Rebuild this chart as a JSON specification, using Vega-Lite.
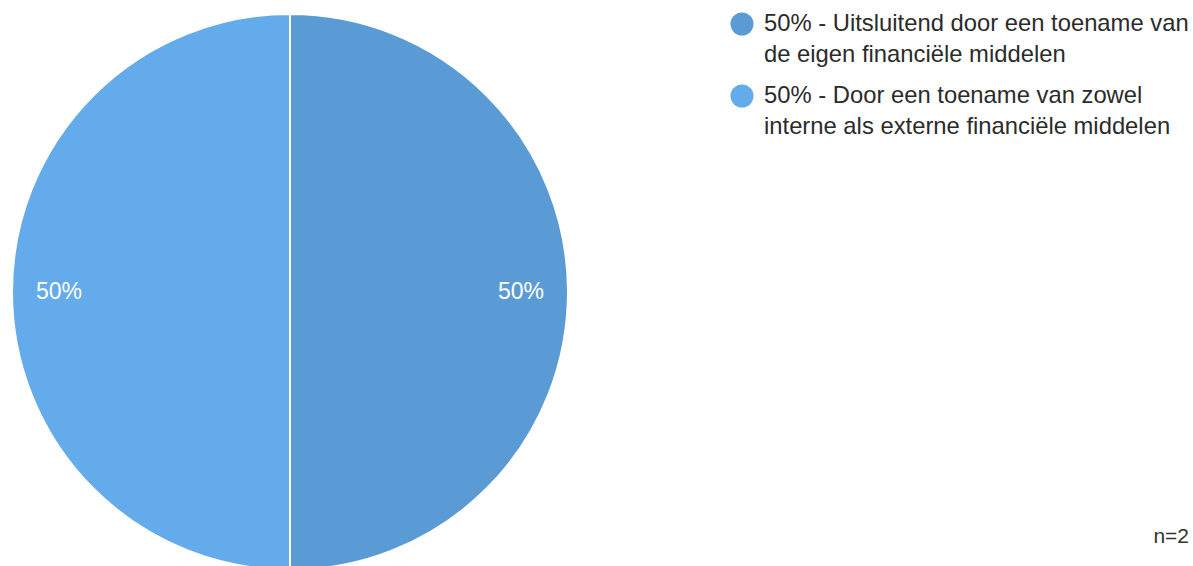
{
  "$schema": "https://vega.github.io/schema/vega-lite/v6.json",
  "width": 580,
  "height": 566,
  "padding": {"left": 0, "top": 9, "right": 2, "bottom": 0},
  "autosize": {"type": "pad"},
  "background": "white",
  "config": {"view": {"stroke": null}, "font": "Liberation Sans", "style": {"guide-label": {"lineHeight": 31}}},
  "title": {"text": "n=2", "orient": "bottom", "anchor": "end", "frame": "bounds", "fontSize": 21, "fontWeight": "normal", "color": "#333333", "offset": -49},
  "data": {"values": [
    {"key": "a", "pct": 50, "label": "50%", "order": 1},
    {"key": "b", "pct": 50, "label": "50%", "order": 2}
  ]},
  "encoding": {
    "theta": {"field": "pct", "type": "quantitative", "stack": true},
    "order": {"field": "order", "type": "quantitative"}
  },
  "layer": [
    {
      "mark": {"type": "arc", "outerRadius": 278, "stroke": "white", "strokeWidth": 2},
      "encoding": {
        "color": {
          "field": "key", "type": "nominal",
          "scale": {"domain": ["a", "b"], "range": ["#5b9bd5", "#64abec"]},
          "legend": {
            "title": null, "orient": "none", "legendX": 730, "legendY": 3,
            "symbolType": "circle", "symbolSize": 530, "symbolStrokeWidth": 0,
            "labelFontSize": 23.8, "labelColor": "#2b2b2b", "labelLimit": 600,
            "labelBaseline": "middle", "labelOffset": 10, "rowPadding": 17,
            "labelExpr": "datum.value == 'a' ? ['50% - Uitsluitend door een toename van', 'de eigen financiële middelen'] : ['50% - Door een toename van zowel', 'interne als externe financiële middelen']"
          }
        }
      }
    },
    {
      "mark": {"type": "text", "radius": 231, "fontSize": 23, "fill": "white"},
      "encoding": {"text": {"field": "label", "type": "nominal"}}
    }
  ]
}
